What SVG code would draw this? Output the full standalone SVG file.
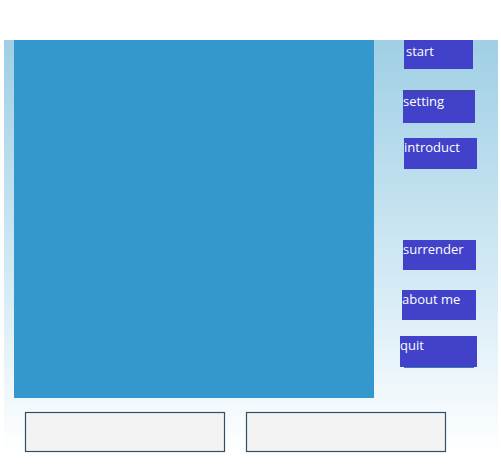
<svg xmlns="http://www.w3.org/2000/svg" width="501" height="472" viewBox="0 0 501 472">
<defs>
<linearGradient id="bg" x1="0" y1="0" x2="0" y2="1">
<stop offset="0" stop-color="#9fcfe5"/>
<stop offset="0.6" stop-color="#d6ebf5"/>
<stop offset="1" stop-color="#ffffff"/>
</linearGradient>
</defs>
<style>
.btn{fill:#4141c9}
.lbl{fill:#ffffff;font-family:"Open Sans","Liberation Sans",sans-serif;font-size:13px}
.box{fill:#f3f3f3;stroke:#2f5068;stroke-width:1.2}
</style>
<rect x="0" y="0" width="501" height="472" fill="#ffffff"/>
<rect x="4" y="40" width="494" height="414" fill="url(#bg)"/>
<g id="screen"><rect x="14" y="40" width="360" height="358" fill="#3498cc"/></g>
<g id="start"><rect class="btn" x="404" y="40" width="69" height="29"/><text class="lbl" x="406" y="56">start</text></g>
<g id="setting"><rect class="btn" x="403" y="90" width="72" height="33"/><line x1="404" y1="90.5" x2="474" y2="90.5" stroke="#4a4a7a" stroke-width="1"/><text class="lbl" x="403" y="106">setting</text></g>
<g id="introduct"><rect class="btn" x="404" y="138" width="73" height="31"/><text class="lbl" x="404" y="152">introduct</text></g>
<g id="surrender"><rect class="btn" x="403" y="240" width="73" height="30"/><text class="lbl" x="403" y="254">surrender</text></g>
<g id="aboutme"><rect class="btn" x="402" y="290" width="74" height="30"/><text class="lbl" x="402" y="304">about me</text></g>
<g id="quit"><rect x="404" y="365" width="70" height="3" fill="#3a7ab8"/><rect class="btn" x="400" y="336" width="77" height="31"/><text class="lbl" x="400" y="350">quit</text></g>
<g id="box1"><rect class="box" x="25.5" y="412.5" width="199" height="39"/></g>
<g id="box2"><rect class="box" x="246.5" y="412.5" width="199" height="39"/></g>
<g id="connectors"></g>
</svg>
